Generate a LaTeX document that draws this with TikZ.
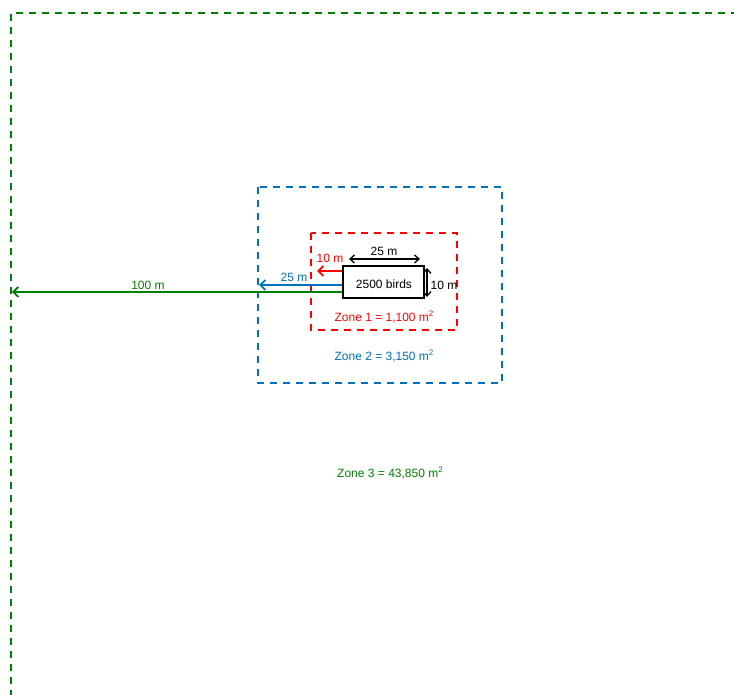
\documentclass[tikz,border=0pt]{standalone}
\usepackage{fontspec}
\setmainfont{Liberation Sans}
\usetikzlibrary{arrows.meta}
\definecolor{zgreen}{RGB}{0,128,0}
\definecolor{zblue}{RGB}{0,112,192}
\definecolor{zred}{RGB}{255,0,0}
\newcommand{\sqm}{m\raisebox{4.5pt}{\fontsize{8}{9}\selectfont 2}}
\tikzset{
  zoneline/.style={line width=1.9pt, dash pattern=on 7pt off 6pt},
  dimarrow/.style={line width=1.9pt, -{Straight Barb[length=5pt,width=10pt]}},
  dimboth/.style={line width=1.3pt, {Straight Barb[length=4.5pt,width=8pt]}-{Straight Barb[length=4.5pt,width=8pt]}},
  lbl/.style={inner sep=0pt, font=\fontsize{12}{14}\selectfont},
}
\begin{document}
\begin{tikzpicture}[x=1pt,y=-1pt]
\useasboundingbox (0,0) rectangle (734,695);

% outer zone 3 boundary
\coordinate (g0) at (11,697);
\coordinate (g1) at (11,13);
\coordinate (g2) at (736,13);
\draw[zoneline, zgreen] (g0) -- (g1) -- (g2);

% zone 2 and zone 1 boundaries
\draw[zoneline, zblue] (258,187) rectangle (502,383);
\draw[zoneline, zred] (311,233) rectangle (457,330);

% the flock
\node[draw, line width=1.9pt, minimum width=81pt, minimum height=32pt, inner sep=0pt]
      (birds) at (383.5,282) {};
\node[lbl] (birdtxt) at (384,284.5) {2500 birds};

% width and height of the flock
\coordinate (wl) at (349,259);
\coordinate (wr) at (420,259);
\draw[dimboth] (wl) -- (wr);
\node[lbl] (w25) at (384,251) {25 m};
\coordinate (ht) at (427,268);
\coordinate (hb) at (427,297);
\draw[dimboth] (ht) -- (hb);
\node[lbl] (h10) at (444,285) {10 m};

% buffer distances
\coordinate (r10) at (317,271);
\draw[dimarrow, zred] (birds.west |- r10) -- (r10);
\node[lbl, text=zred] (l10) at (330,258) {10 m};

\coordinate (b25) at (259,285);
\draw[dimarrow, zblue] (birds.west |- b25) -- (b25);
\node[lbl, text=zblue] (l25) at (294,277) {25 m};

\coordinate (g100) at (12,292);
\draw[dimarrow, zgreen] (birds.west |- g100) -- (g100);
\node[lbl, text=zgreen] (l100) at (148,285) {100 m};

% zone areas
\node[lbl, text=zred] (z1) at (384,317) {Zone 1 = 1,100 \sqm};
\node[lbl, text=zblue] (z2) at (384,356) {Zone 2 = 3,150 \sqm};
\node[lbl, text=zgreen] (z3) at (390,473) {Zone 3 = 43,850 \sqm};
\end{tikzpicture}
\end{document}
